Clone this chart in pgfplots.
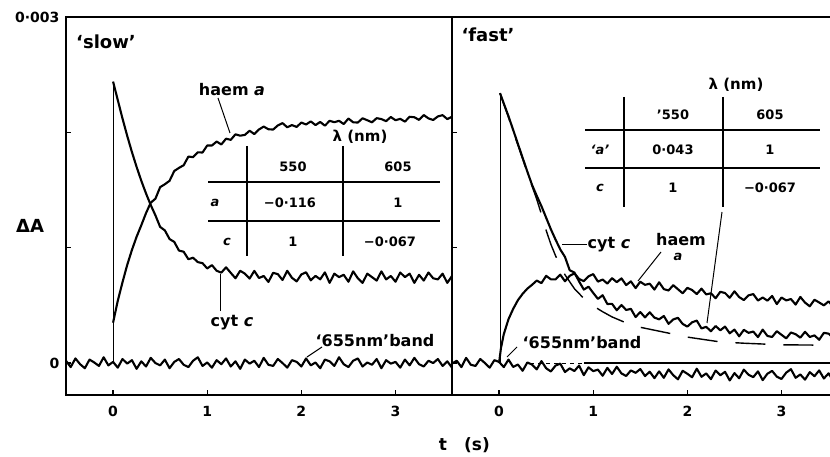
\documentclass[border=0pt]{standalone}
\usepackage{pgfplots}
\pgfplotsset{compat=1.18}
\usepackage{fontspec}
\setmainfont{DejaVu Sans}
\newcommand{\fs}[1]{\fontsize{#1}{#1}\selectfont\bfseries}

% absorbance in units of 1e-6 (0.003 = 3000)
\pgfplotsset{
  panel/.style={
    scale only axis, width=386pt, height=378pt,
    anchor=north west,
    xmin=-0.5, xmax=3.6, ymin=-277, ymax=3000,
    axis line style={line width=2pt},
    tick pos=left, tick align=inside,
    major tick length=5pt,
    every tick/.style={black, line width=1.2pt},
    xtick={0,1,2,3}, xticklabels={0,1,2,3},
    ytick={0,1000,2000,3000},
    xticklabel style={font=\fs{14}, yshift=-8pt},
    yticklabel style={font=\fs{14}, xshift=-3pt},
  },
  trace/.style={black, line width=2.1pt, line join=round},
  jump/.style={black, line width=0.8pt},
}

\begin{document}
\begin{tikzpicture}
\path[use as bounding box] (0pt,0pt) rectangle (830pt,-457pt);

% ---- 'slow'
\begin{axis}[panel, at={(66pt,-17pt)}, yticklabels={0,,,0·003}]
\addplot[trace] coordinates {(-0.5,20)(-0.45,-35)(-0.4,40)(-0.35,-10)(-0.3,-45)(-0.25,30)(-0.2,5)(-0.15,-25)(-0.1,50)(-0.05,-20)(0,10)(0.05,-40)(0.1,35)(0.15,-5)(0.2,25)(0.25,-50)(0.3,15)(0.35,-30)(0.4,45)(0.45,0)(0.5,-20)(0.55,30)(0.6,-45)(0.65,10)(0.7,35)(0.75,-15)(0.8,-35)(0.85,20)(0.9,50)(0.95,-25)(1,5)(1.05,-40)(1.1,25)(1.15,-10)(1.2,40)(1.25,-30)(1.3,15)(1.35,-50)(1.4,30)(1.45,-5)(1.5,20)(1.55,-35)(1.6,45)(1.65,-15)(1.7,-25)(1.75,35)(1.8,0)(1.85,-40)(1.9,25)(1.95,10)(2,-30)(2.05,40)(2.1,-20)(2.15,5)(2.2,-45)(2.25,30)(2.3,15)(2.35,-25)(2.4,50)(2.45,-10)(2.5,-35)(2.55,20)(2.6,40)(2.65,-30)(2.7,5)(2.75,-15)(2.8,35)(2.85,-45)(2.9,25)(2.95,-5)(3,10)(3.05,-40)(3.1,30)(3.15,-20)(3.2,45)(3.25,-10)(3.3,-30)(3.35,20)(3.4,0)(3.45,35)(3.5,-25)(3.55,15)(3.6,-40)};
\addplot[jump] coordinates {(0,0)(0,2440)};
% haem a
\addplot[trace] coordinates {(0,350)(0.05,540)(0.1,700)(0.15,850)(0.2,980)(0.25,1095)(0.3,1195)(0.35,1300)(0.4,1390)(0.45,1425)(0.5,1525)(0.55,1550)(0.6,1580)(0.65,1665)(0.7,1692)(0.75,1715)(0.8,1790)(0.85,1785)(0.9,1827)(0.95,1825)(1,1886)(1.05,1886)(1.1,1920)(1.15,1895)(1.2,1945)(1.25,1935)(1.3,1983)(1.35,1971)(1.4,1978)(1.45,2014)(1.5,1985)(1.55,2025)(1.6,2050)(1.65,2027)(1.7,2024)(1.75,2060)(1.8,2080)(1.85,2044)(1.9,2063)(1.95,2047)(2,2085)(2.05,2068)(2.1,2095)(2.15,2063)(2.2,2090)(2.25,2058)(2.3,2100)(2.35,2088)(2.4,2100)(2.45,2072)(2.5,2120)(2.55,2087)(2.6,2085)(2.65,2122)(2.7,2105)(2.75,2087)(2.8,2123)(2.85,2115)(2.9,2097)(2.95,2133)(3,2105)(3.05,2117)(3.1,2093)(3.15,2135)(3.2,2131)(3.25,2108)(3.3,2150)(3.35,2121)(3.4,2107)(3.45,2138)(3.5,2149)(3.55,2115)(3.6,2135)};
% cyt c
\addplot[trace] coordinates {(0,2440)(0.05,2280)(0.1,2120)(0.15,1970)(0.2,1830)(0.25,1700)(0.3,1580)(0.35,1470)(0.4,1370)(0.45,1280)(0.5,1180)(0.55,1150)(0.6,1075)(0.65,1050)(0.7,975)(0.75,965)(0.8,900)(0.85,913)(0.9,875)(0.95,866)(1,820)(1.05,849)(1.1,800)(1.15,784)(1.2,830)(1.25,782)(1.3,735)(1.35,800)(1.4,775)(1.45,732)(1.5,799)(1.55,737)(1.6,755)(1.65,703)(1.7,782)(1.75,771)(1.8,720)(1.85,800)(1.9,739)(1.95,708)(2,768)(2.05,787)(2.1,717)(2.15,756)(2.2,726)(2.25,786)(2.3,695)(2.35,775)(2.4,745)(2.45,765)(2.5,705)(2.55,795)(2.6,735)(2.65,695)(2.7,775)(2.75,745)(2.8,715)(2.85,795)(2.9,725)(2.95,755)(3,705)(3.05,785)(3.1,745)(3.15,775)(3.2,695)(3.25,765)(3.3,715)(3.35,785)(3.4,735)(3.45,725)(3.5,775)(3.55,695)(3.6,755)};
\end{axis}

% ---- 'fast'
\begin{axis}[panel, at={(452pt,-17pt)}, yticklabels={,,,}]
\addplot[trace] coordinates {(-0.5,-5)(-0.45,20)(-0.4,-35)(-0.35,45)(-0.3,-15)(-0.25,-25)(-0.2,35)(-0.15,0)(-0.1,-40)(-0.05,25)(0,10)(0.05,-35)(0.1,30)(0.15,-34)(0.2,-13)(0.25,-67)(0.3,5)(0.35,-13)(0.4,-55)(0.45,17)(0.5,-45)(0.55,-73)(0.6,-22)(0.65,-5)(0.7,-78)(0.75,-46)(0.8,-69)(0.85,-22)(0.9,-105)(0.95,-37)(1,-70)(1.05,-57)(1.1,-110)(1.15,-42)(1.2,-95)(1.25,-32)(1.3,-90)(1.35,-112)(1.4,-64)(1.45,-85)(1.5,-52)(1.55,-113)(1.6,-75)(1.65,-131)(1.7,-72)(1.75,-128)(1.8,-55)(1.85,-105)(1.9,-141)(1.95,-67)(2,-93)(2.05,-123)(2.1,-49)(2.15,-119)(2.2,-90)(2.25,-140)(2.3,-65)(2.35,-106)(2.4,-76)(2.45,-151)(2.5,-87)(2.55,-132)(2.6,-57)(2.65,-102)(2.7,-122)(2.75,-72)(2.8,-148)(2.85,-93)(2.9,-68)(2.95,-118)(3,-138)(3.05,-83)(3.1,-53)(3.15,-128)(3.2,-99)(3.25,-144)(3.3,-79)(3.35,-114)(3.4,-64)(3.45,-134)(3.5,-89)(3.55,-154)(3.6,-74)};
\addplot[line width=1pt, dash pattern=on 4pt off 4pt] coordinates {(0.33,0)(0.9,0)};
\addplot[line width=1.2pt] coordinates {(0.9,0)(3.6,0)};
\addplot[jump] coordinates {(0.01,0)(0.01,2340)};
% haem a
\addplot[trace] coordinates {(0,0)(0.02,130)(0.05,250)(0.1,380)(0.15,470)(0.2,545)(0.25,600)(0.3,645)(0.35,678)(0.4,715)(0.45,693)(0.5,756)(0.55,726)(0.6,725)(0.65,766)(0.7,709)(0.75,756)(0.8,777)(0.85,729)(0.9,710)(0.95,752)(1,771)(1.05,706)(1.1,724)(1.15,689)(1.2,736)(1.25,701)(1.3,734)(1.35,676)(1.4,708)(1.45,650)(1.5,705)(1.55,678)(1.6,688)(1.65,637)(1.7,700)(1.75,641)(1.8,629)(1.85,675)(1.9,640)(1.95,605)(2,652)(2.05,633)(2.1,598)(2.15,645)(2.2,595)(2.25,605)(2.3,562)(2.35,618)(2.4,607)(2.45,566)(2.5,622)(2.55,572)(2.6,546)(2.65,587)(2.7,598)(2.75,542)(2.8,568)(2.85,541)(2.9,582)(2.95,511)(3,568)(3.05,543)(3.1,555)(3.15,507)(3.2,573)(3.25,524)(3.3,492)(3.35,549)(3.4,525)(3.45,500)(3.5,535)(3.55,488)(3.6,554)};
% cyt c fit (dashed)
\addplot[black, line width=1.4pt, dash pattern=on 30pt off 18pt] coordinates {(0.01,2340)(0.1,2130)(0.2,1890)(0.3,1650)(0.4,1420)(0.45,1290)(0.5,1150)(0.55,1030)(0.6,930)(0.65,840)(0.7,765)(0.8,645)(0.9,560)(1,495)(1.1,445)(1.2,400)(1.35,348)(1.5,310)(1.75,268)(2,225)(2.35,183)(2.6,172)(3,158)(3.5,155)(3.6,155)};
% cyt c
\addplot[trace] coordinates {(0.01,2340)(0.05,2250)(0.1,2140)(0.15,2020)(0.2,1900)(0.25,1780)(0.3,1660)(0.35,1545)(0.4,1450)(0.45,1360)(0.5,1260)(0.55,1160)(0.6,1070)(0.65,985)(0.7,920)(0.75,805)(0.8,785)(0.85,707)(0.9,637)(0.95,662)(1,608)(1.05,556)(1.1,588)(1.15,512)(1.2,513)(1.25,458)(1.3,503)(1.35,460)(1.4,470)(1.45,399)(1.5,442)(1.55,396)(1.6,440)(1.65,394)(1.7,379)(1.75,408)(1.8,340)(1.85,378)(1.9,392)(1.95,339)(2,316)(2.05,353)(2.1,368)(2.15,300)(2.2,314)(2.25,276)(2.3,321)(2.35,284)(2.4,316)(2.45,258)(2.5,290)(2.55,232)(2.6,288)(2.65,262)(2.7,273)(2.75,225)(2.8,290)(2.85,235)(2.9,226)(2.95,276)(3,245)(3.05,214)(3.1,265)(3.15,250)(3.2,220)(3.25,271)(3.3,226)(3.35,240)(3.4,202)(3.45,262)(3.5,255)(3.55,218)(3.6,278)};
\end{axis}

% ---- labels, leaders and the two inset tables (pixel coordinates)
\begin{scope}[x=1pt, y=-1pt]
\node[font=\fs{18}] at (30,226) {ΔA};
\node[font=\fs{17}] at (443,445) {t};
\node[font=\fs{17}] at (477,445) {(s)};

\node[font=\fs{18}] at (106,42) {`slow'};
\node[font=\fs{16}] at (232,90) {haem \textit{a}};
\draw[line width=1pt] (218,98) -- (230,133);
\node[font=\fs{16}] at (232,323) {cyt \textit{c}};
\draw[line width=1pt] (220,311) -- (220,274);
\node[font=\fs{16}] at (375,341) {`655nm'band};
\draw[line width=1pt] (322,347) -- (307,357);

\node[font=\fs{15}] at (360,137) {λ (nm)};
\draw[line width=1.3pt] (247,146) -- (247,256) (343,146) -- (343,256);
\draw[line width=2.2pt] (208,182) -- (440,182) (208,221) -- (440,221);
\begin{scope}[every node/.style={font=\fs{13}}]
\node at (293,167) {550};
\node at (398,167) {605};
\node at (215,203) {\textit{a}};
\node at (290,203) {−0·116};
\node at (398,203) {1};
\node at (227,242) {\textit{c}};
\node at (293,242) {1};
\node at (390,242) {−0·067};
\end{scope}

\node[font=\fs{18}] at (488,35) {`fast'};
\node[font=\fs{15}] at (736,85) {λ (nm)};
\draw[line width=1.3pt] (624,97) -- (624,207) (723,97) -- (723,207);
\draw[line width=1pt] (722,212) -- (707,323);
\draw[line width=2.2pt] (585,130) -- (820,130) (585,168) -- (820,168);
\begin{scope}[every node/.style={font=\fs{13}}]
\node at (673,115) {’550};
\node at (770,115) {605};
\node at (600,150) {\textit{`a'}};
\node at (673,150) {0·043};
\node at (770,150) {1};
\node at (600,188) {\textit{c}};
\node at (673,188) {1};
\node at (770,188) {−0·067};
\end{scope}
\node[font=\fs{16}] at (609,245) {cyt \textit{c}};
\draw[line width=1pt] (562,245) -- (587,245);
\node[font=\fs{16}] at (681,240) {haem};
\node[font=\fs{13}] at (678,257) {\textit{a}};
\draw[line width=1pt] (661,252) -- (638,281);
\node[font=\fs{16}] at (582,343) {`655nm'band};
\draw[line width=1pt] (517,347) -- (507,357);
\end{scope}
\end{tikzpicture}
\end{document}
